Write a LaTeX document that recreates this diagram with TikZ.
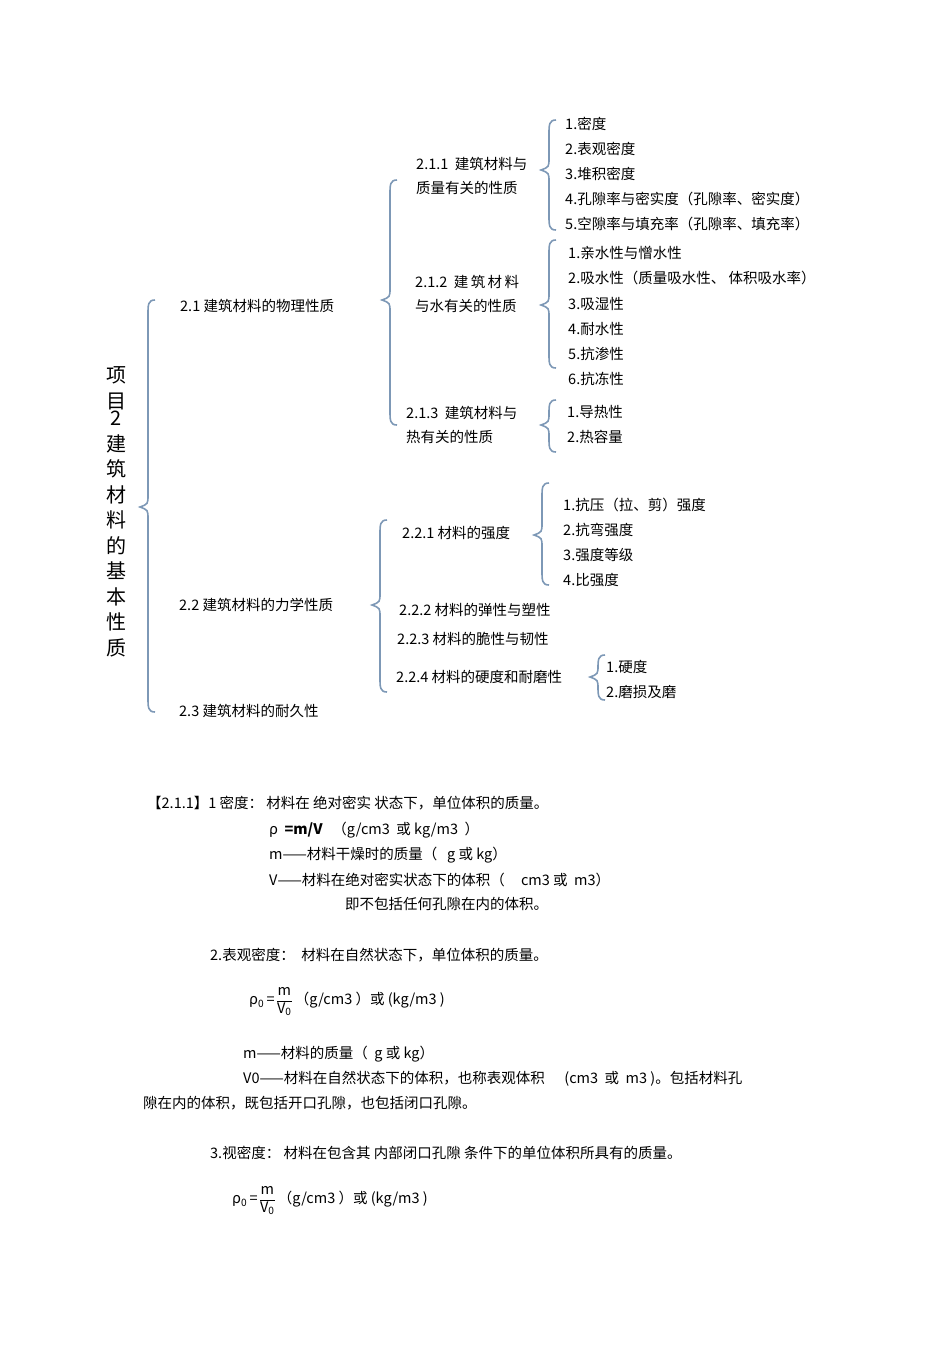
\documentclass[tikz,border=0pt]{standalone}
\usepackage{fontspec}
\setmainfont{Noto Sans CJK SC}
\begin{document}
\begin{tikzpicture}[x=1pt,y=-1pt,
  t/.style={anchor=west,inner sep=0pt,font=\fontsize{14.5}{16}\selectfont},
  tl/.style={anchor=west,inner sep=0pt,align=left,font=\fontsize{14.5}{24}\selectfont},
  brc/.style={draw=brcol,line width=1.6pt}]
\definecolor{brcol}{RGB}{125,152,182}
\useasboundingbox (0,0) rectangle (950,1345);
\newcommand\mybrace[4]{\draw[brc] (#1+7,#2) .. controls (#1,#2) and (#1,#2+5) .. (#1,#2+14) -- (#1,#3-12) .. controls (#1,#3-3) .. (#1-8,#3) .. controls (#1,#3+3) .. (#1,#3+12) -- (#1,#4-14) .. controls (#1,#4-5) and (#1,#4) .. (#1+7,#4);}
\newcommand\myfrac{ρ\textsubscript{0}\,=\,\renewcommand\arraystretch{1.1}\begin{tabular}{@{}c@{}}m\\\hline V\textsubscript{0}\end{tabular}}
% braces
\mybrace{148}{300}{507}{712}
\mybrace{390}{180}{300}{425}
\mybrace{549}{120}{170}{230}
\mybrace{549}{240}{305}{368}
\mybrace{549}{400}{425}{452}
\mybrace{380}{520}{605}{692}
\mybrace{542}{483}{535}{585}
\mybrace{598}{655}{677}{700}
% title
\node[inner sep=0pt,align=center,font=\fontsize{20}{25.5}\selectfont] (title) at (116,512) {项\\目\\[-8pt]2\\建\\筑\\材\\料\\的\\基\\本\\性\\质};
\node[t] (n21) at (180,306) {2.1 建筑材料的物理性质};
\node[t] (n22) at (179,605) {2.2 建筑材料的力学性质};
\node[t] (n23) at (179,711) {2.3 建筑材料的耐久性};
\node[tl] (n211) at (416,176) {2.1.1\ \ 建筑材料与\\质量有关的性质};
\node[tl] (n212) at (415,294) {2.1.2\ \ 建\,筑\,材\,料\\与水有关的性质};
\node[tl] (n213) at (406,425) {2.1.3\ \ 建筑材料与\\热有关的性质};
\node[tl,font=\fontsize{14.5}{25}\selectfont] (a) at (565,174) {1.密度\\2.表观密度\\3.堆积密度\\4.孔隙率与密实度（孔隙率、密实度）\\5.空隙率与填充率（孔隙率、填充率）};
\node[tl,font=\fontsize{14.5}{25.1}\selectfont] (b) at (568,316) {1.亲水性与憎水性\\2.吸水性（质量吸水性、\ 体积吸水率）\\3.吸湿性\\4.耐水性\\5.抗渗性\\6.抗冻性};
\node[tl,font=\fontsize{14.5}{25}\selectfont] (c) at (567,425) {1.导热性\\2.热容量};
\node[t] (n221) at (402,533) {2.2.1 材料的强度};
\node[tl,font=\fontsize{14.5}{25}\selectfont] (d) at (563,542) {1.抗压（拉、剪）强度\\2.抗弯强度\\3.强度等级\\4.比强度};
\node[t] (n222) at (399,610) {2.2.2 材料的弹性与塑性};
\node[t] (n223) at (397,639) {2.2.3 材料的脆性与韧性};
\node[t] (n224) at (396,677) {2.2.4 材料的硬度和耐磨性};
\node[tl,font=\fontsize{14.5}{25}\selectfont] (e) at (606,679) {1.硬度\\2.磨损及磨};
% text section
\node[t] (p1) at (147,803) {【2.1.1】1 密度： 材料在\ 绝对密实\ 状态下，单位体积的质量。};
\node[t] (p2) at (269,830) {ρ\ \ \textbf{=m/V}\ \ \ （g/cm3\ \ 或\ kg/m3\ \ ）};
\node[t] (p3) at (269,855) {m——材料干燥时的质量（\ \ \ g 或\ kg）};
\node[t] (p4) at (269,880) {V——材料在绝对密实状态下的体积（\ \ \ \ \ cm3 或\ \ m3）};
\node[t] (p5) at (345,904) {即不包括任何孔隙在内的体积。};
\node[t] (p6) at (210,955) {2.表观密度：\ \ 材料在自然状态下，单位体积的质量。};
\node[t] (f1) at (249,1001) {\myfrac\ （g/cm3\ ）或 (kg/m3 )};
\node[t] (p7) at (243,1054) {m——材料的质量（\ \ g\ 或\ kg）};
\node[t] (p8) at (243,1079) {V0——材料在自然状态下的体积，也称表观体积\ \ \ \ \ \ (cm3\ \ 或\ \ m3\ )。包括材料孔};
\node[t] (p9) at (143,1103) {隙在内的体积，既包括开口孔隙，也包括闭口孔隙。};
\node[t] (p10) at (210,1153) {3.视密度：\ 材料在包含其\ 内部闭口孔隙\ 条件下的单位体积所具有的质量。};
\node[t] (f2) at (232,1200) {\myfrac\ （g/cm3\ ）或 (kg/m3 )};
\end{tikzpicture}
\end{document}
